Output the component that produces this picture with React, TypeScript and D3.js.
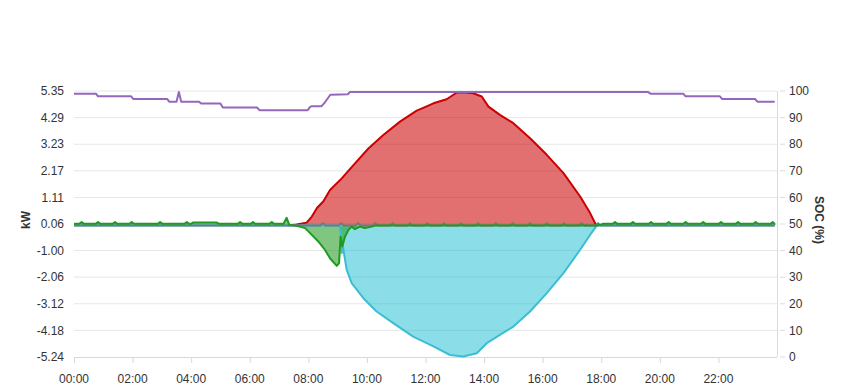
import React from 'react';
import * as d3 from 'd3';

const W = 849;
const H = 390;
const PLOT = { left: 74, right: 777, top: 91, bottom: 357 };

// x axis ticks (hours)
const xTickHours = [0, 2, 4, 6, 8, 10, 12, 14, 16, 18, 20, 22];
const xTickLabels = ['00:00', '02:00', '04:00', '06:00', '08:00', '10:00', '12:00', '14:00', '16:00', '18:00', '20:00', '22:00'];
// left axis ticks (kW)
const kwTicks = [5.35, 4.29, 3.23, 2.17, 1.11, 0.06, -1.0, -2.06, -3.12, -4.18, -5.24];
// right axis ticks (SOC %)
const socTicks = [0, 10, 20, 30, 40, 50, 60, 70, 80, 90, 100];

// PV production (red, positive)
const pvTimes = [7.3, 7.6, 7.94, 8.12, 8.3, 8.51, 8.74, 9.14, 9.54, 10.05, 10.56, 11.13, 11.7, 12.0, 12.27, 12.72, 13.07, 13.3, 13.63, 13.92, 14.15, 14.54, 15.0, 15.57, 16.14, 16.71, 17.28, 17.62, 17.82, 17.95];
const pvValues = [0, 0.04, 0.11, 0.35, 0.7, 0.95, 1.41, 1.87, 2.4, 3.06, 3.6, 4.13, 4.57, 4.72, 4.86, 5.02, 5.29, 5.3, 5.26, 5.13, 4.73, 4.4, 4.07, 3.47, 2.81, 2.08, 1.15, 0.49, 0.02, 0];

// Grid export (cyan, negative)
const gridTimes = [0, 9.06, 9.1, 9.14, 9.18, 9.31, 9.48, 9.88, 10.33, 10.9, 11.58, 12.27, 12.84, 13.29, 13.75, 14.09, 14.54, 15.0, 15.57, 16.14, 16.71, 17.28, 17.62, 17.85, 23.92];
const gridValues = [0, 0, -0.3, -1.1, -0.84, -1.77, -2.3, -2.9, -3.43, -3.89, -4.43, -4.82, -5.16, -5.22, -5.09, -4.69, -4.36, -4.03, -3.43, -2.7, -1.9, -0.97, -0.38, 0, 0];

// Battery / consumption (green)
const greenTimes = [0, 4.0, 4.06, 4.88, 4.95, 7.15, 7.26, 7.35, 7.6, 7.89, 8.06, 8.34, 8.57, 8.74, 8.97, 9.05, 9.1, 9.16, 9.25, 9.37, 9.48, 9.59, 9.76, 9.93, 10.16, 10.33, 17.9, 18.05, 23.92];
const greenValues = [0.06, 0.06, 0.11, 0.11, 0.06, 0.06, 0.3, 0.02, -0.02, -0.11, -0.31, -0.64, -0.98, -1.31, -1.61, -1.5, -0.45, -0.84, -0.45, -0.18, -0.05, -0.15, -0.05, -0.11, -0.05, 0, 0, 0.06, 0.06];
const greenBumpTimes = [0.26, 0.82, 1.4, 1.97, 2.94, 3.85, 5.67, 6.11, 6.75, 18.47, 19.08, 19.7, 20.3, 20.88, 21.48, 22.09, 22.67, 23.27, 23.86];
const greenBumpHeight = 0.07;

// House load (gray line)
const grayTimes = [0, 23.92];
const grayValues = [0, 0];
const grayBumpTimes = [8.5, 9.12, 9.7, 10.28, 10.88, 11.47, 12.06, 12.63, 13.21, 13.8, 14.4, 14.98, 15.57, 16.14, 16.73, 17.33, 17.89];
const grayBumpHeight = 0.09;

// SOC (purple, right axis)
const socTimes = [0, 0.75, 0.82, 1.95, 2.02, 3.18, 3.25, 3.5, 3.58, 3.66, 4.27, 4.34, 5.0, 5.08, 6.25, 6.33, 7.98, 8.06, 8.12, 8.45, 8.55, 8.75, 9.35, 9.42, 19.6, 19.68, 20.8, 20.88, 22.05, 22.13, 23.25, 23.33, 23.92];
const socValues = [99, 99, 98, 98, 97, 97, 96, 96, 99.6, 96, 96, 95.3, 95.3, 93.8, 93.8, 92.8, 92.8, 94.0, 94.3, 94.3, 95.5, 98.6, 98.8, 99.6, 99.6, 99, 99, 98, 98, 97, 97, 96, 96];

type P = [number, number];

function zip(ts: number[], vs: number[]): P[] {
  return ts.map((t, i) => [t, vs[i]] as P);
}

function withBumps(base: P[], bumps: number[], h: number): P[] {
  const pts = base.slice();
  const baseAt = (t: number) => {
    for (let i = 0; i < base.length - 1; i++) {
      if (t >= base[i][0] && t <= base[i + 1][0]) {
        const [t0, v0] = base[i];
        const [t1, v1] = base[i + 1];
        return t1 === t0 ? v0 : v0 + ((t - t0) / (t1 - t0)) * (v1 - v0);
      }
    }
    return 0;
  };
  bumps.forEach((c) => {
    const b = baseAt(c);
    pts.push([c - 0.08, b], [c, b + h], [c + 0.08, b]);
  });
  return pts.sort((a, b) => a[0] - b[0]);
}

const x = d3.scaleLinear().domain([0, 24]).range([PLOT.left, PLOT.right]);
const yKw = d3.scaleLinear().domain([-5.24, 5.35]).range([PLOT.bottom, PLOT.top]);
const ySoc = d3.scaleLinear().domain([0, 100]).range([PLOT.bottom, PLOT.top]);

const FONT = '"Liberation Sans", Arial, sans-serif';

export default function App() {
  const pv = zip(pvTimes, pvValues);
  const grid = zip(gridTimes, gridValues);
  const green = withBumps(zip(greenTimes, greenValues), greenBumpTimes, greenBumpHeight);
  const gray = withBumps(zip(grayTimes, grayValues), grayBumpTimes, grayBumpHeight);
  const soc = zip(socTimes, socValues);

  const area = d3
    .area<P>()
    .x((d) => x(d[0]))
    .y0(yKw(0))
    .y1((d) => yKw(d[1]));
  const line = d3
    .line<P>()
    .x((d) => x(d[0]))
    .y((d) => yKw(d[1]));
  const socLine = d3
    .line<P>()
    .x((d) => x(d[0]))
    .y((d) => ySoc(d[1]));

  return (
    <svg
      width={W}
      height={H}
      style={{ position: 'absolute', left: 0, top: 0, display: 'block', background: '#fff' }}
      fontFamily={FONT}
    >
      {/* grid lines */}
      {kwTicks.slice(0, -1).map((t) => (
        <line key={'g' + t} x1={PLOT.left} x2={PLOT.right} y1={yKw(t)} y2={yKw(t)} stroke="#e6e6e6" strokeWidth={1} />
      ))}
      {/* bottom axis */}
      <line x1={PLOT.left} x2={PLOT.right} y1={PLOT.bottom + 0.5} y2={PLOT.bottom + 0.5} stroke="#d8d8d8" strokeWidth={1} />
      {xTickHours.map((h) => (
        <line key={'xt' + h} x1={x(h) + 0.5} x2={x(h) + 0.5} y1={PLOT.bottom} y2={PLOT.bottom + 6} stroke="#d8d8d8" />
      ))}
      {/* right axis */}
      <line x1={PLOT.right + 0.5} x2={PLOT.right + 0.5} y1={PLOT.top} y2={PLOT.bottom} stroke="#dddddd" />
      {socTicks.map((t) => (
        <line key={'st' + t} x1={PLOT.right + 3} x2={PLOT.right + 8} y1={ySoc(t)} y2={ySoc(t)} stroke="#dddddd" />
      ))}

      {/* areas */}
      <path d={area(pv) || ''} fill="#cc0000" fillOpacity={0.56} />
      <path d={area(grid) || ''} fill="#17becf" fillOpacity={0.5} />
      <path d={area(green) || ''} fill="#2ca02c" fillOpacity={0.6} />

      {/* lines */}
      <path d={line(pv) || ''} fill="none" stroke="#cc0000" strokeWidth={2} strokeLinejoin="round" />
      <path d={line(grid) || ''} fill="none" stroke="#3cbdd6" strokeWidth={2} strokeLinejoin="round" />
      <path d={line(gray) || ''} fill="none" stroke="#6f7a80" strokeWidth={2} strokeLinejoin="round" />
      <path d={line(green) || ''} fill="none" stroke="#1f9a1f" strokeWidth={2} strokeLinejoin="round" />
      <path d={socLine(soc) || ''} fill="none" stroke="#9467bd" strokeWidth={2} strokeLinejoin="round" />

      {/* left labels */}
      {kwTicks.map((t) => (
        <text key={'kl' + t} x={64} y={yKw(t)} dy="0.35em" textAnchor="end" fontSize={12} fill="#333">
          {t.toFixed(2)}
        </text>
      ))}
      {/* right labels */}
      {socTicks.map((t) => (
        <text key={'sl' + t} x={789} y={ySoc(t)} dy="0.35em" textAnchor="start" fontSize={12} fill="#333">
          {t}
        </text>
      ))}
      {/* bottom labels */}
      {xTickHours.map((h, i) => (
        <text key={'xl' + h} x={x(h)} y={383} textAnchor="middle" fontSize={12} fill="#333">
          {xTickLabels[i]}
        </text>
      ))}
      {/* axis titles */}
      <text transform="translate(30,220) rotate(-90)" textAnchor="middle" fontSize={12} fontWeight="bold" fill="#333">
        kW
      </text>
      <text transform="translate(815,220) rotate(90)" textAnchor="middle" fontSize={12} fontWeight="bold" fill="#333">
        SOC (%)
      </text>
    </svg>
  );
}
